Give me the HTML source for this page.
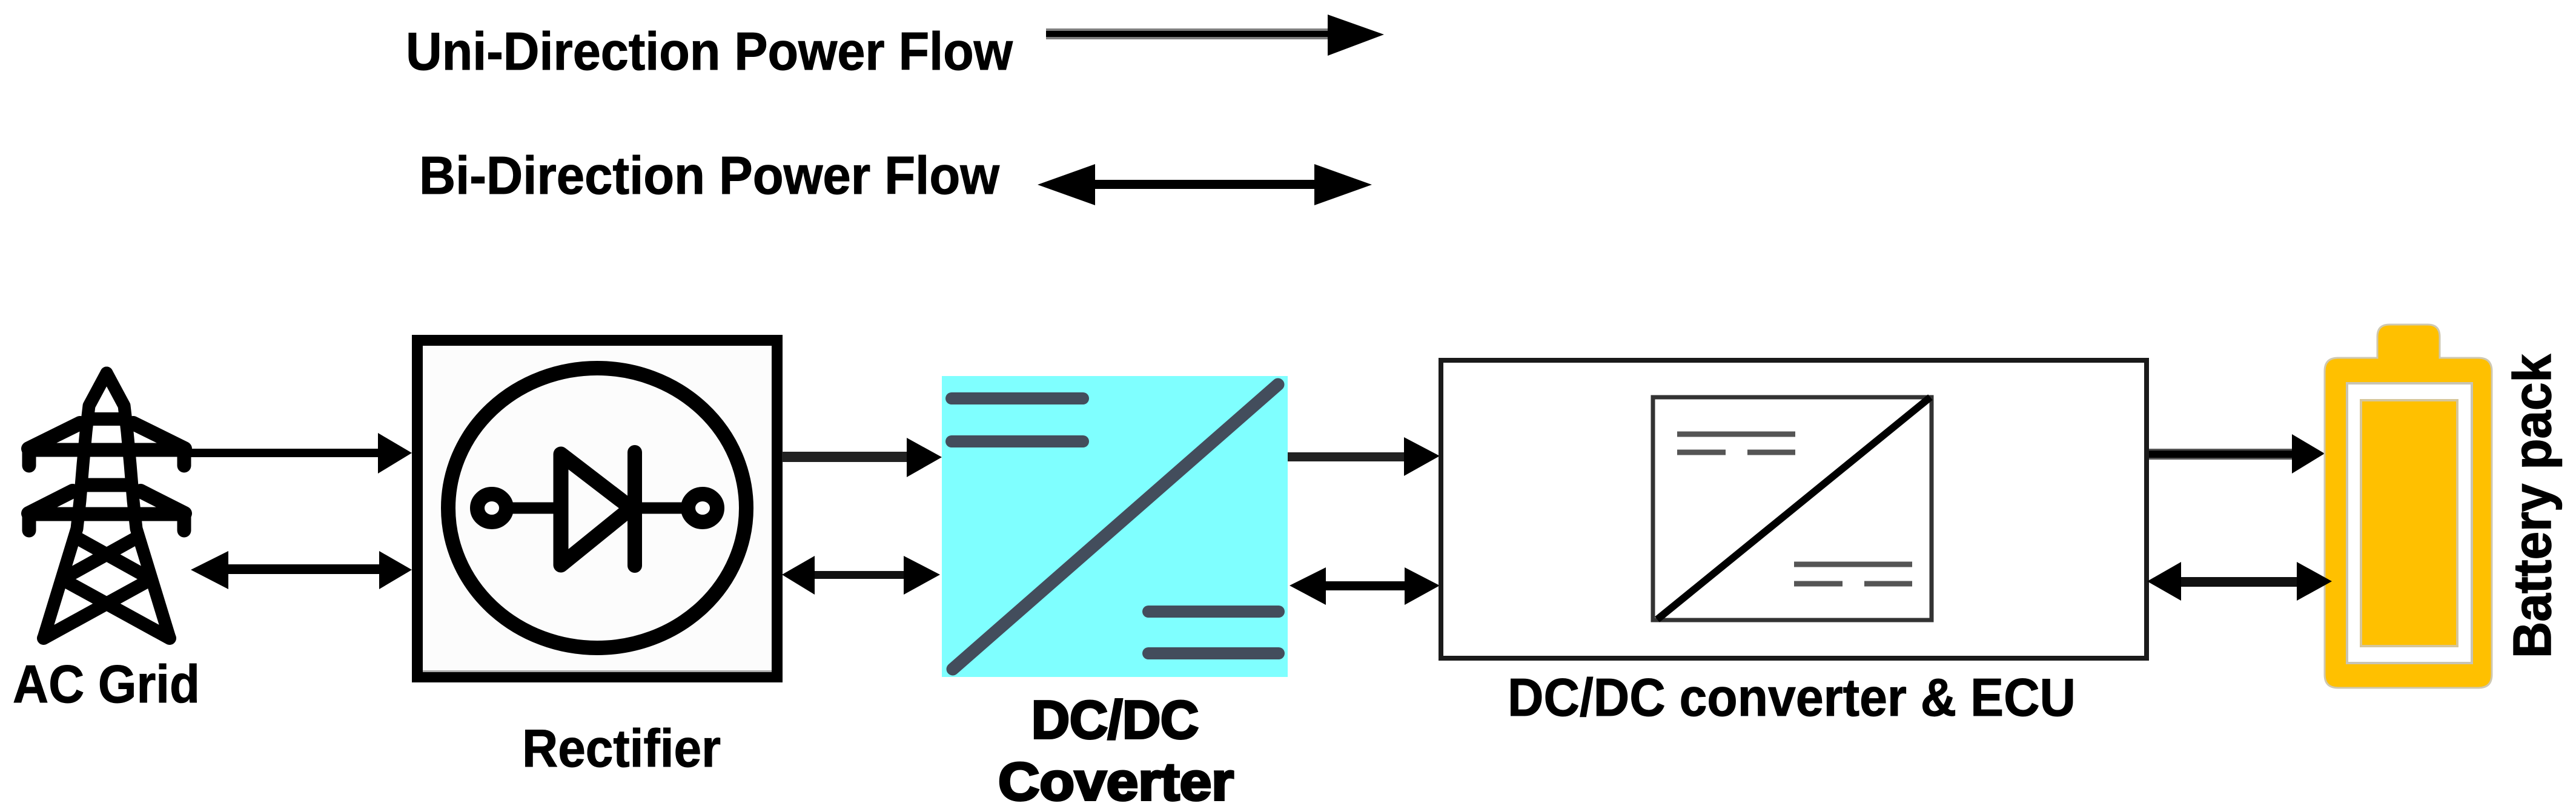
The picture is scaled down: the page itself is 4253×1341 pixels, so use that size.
<!DOCTYPE html>
<html>
<head>
<meta charset="utf-8">
<style>
html,body{margin:0;padding:0;background:#fff}
svg{display:block}
text{font-family:"Liberation Sans",Arial,sans-serif;fill:#000}
.r{font-weight:700;stroke:#000;stroke-width:1px}
.b{font-weight:700;stroke:#000;stroke-width:4px}
</style>
</head>
<body>
<svg xmlns="http://www.w3.org/2000/svg" width="4253" height="1341" viewBox="0 0 4253 1341">
<rect width="4253" height="1341" fill="#fff"/>

<!-- Legend -->
<text class="r" x="670" y="115" font-size="88" textLength="1002" lengthAdjust="spacingAndGlyphs">Uni-Direction Power Flow</text>
<rect x="1727" y="47" width="470" height="18" fill="#808080"/>
<rect x="1727" y="51" width="470" height="10" fill="#000"/>
<polygon points="2192,24 2285,57 2192,92" fill="#000"/>
<text class="r" x="692" y="320" font-size="88" textLength="958" lengthAdjust="spacingAndGlyphs">Bi-Direction Power Flow</text>
<rect x="1800" y="297" width="378" height="15" fill="#000"/>
<polygon points="1808,271 1713,305 1808,339" fill="#000"/>
<polygon points="2170,271 2265,305 2170,339" fill="#000"/>

<!-- Tower -->
<g fill="none" stroke="#000" stroke-linejoin="round" stroke-linecap="round">
  <path stroke-width="21" d="M176,616 L147,670 L142,713 L137,767 L132,827 L127,873 L72,1053"/>
  <path stroke-width="21" d="M176,616 L205,670 L210,713 L215,767 L220,827 L225,873 L280,1053"/>
  <path stroke-width="22" stroke-linecap="butt" d="M140,692H212"/>
  <path stroke-width="23" stroke-linecap="butt" d="M130,801H222"/>
  <path stroke-width="23" d="M48,769V743H304V769"/>
  <path stroke-width="23" d="M48,876V849H304V876"/>
  <path stroke-width="24" d="M47,741L132,699"/>
  <path stroke-width="24" d="M305,741L220,699"/>
  <path stroke-width="24" d="M47,848L120,811"/>
  <path stroke-width="24" d="M305,848L232,811"/>
  <path stroke-width="22" d="M130,890L247,955"/>
  <path stroke-width="22" d="M222,890L105,955"/>
  <path stroke-width="22" d="M107,959L280,1054"/>
  <path stroke-width="22" d="M245,959L72,1054"/>
</g>
<text class="r" x="21" y="1160" font-size="88" textLength="309" lengthAdjust="spacingAndGlyphs">AC Grid</text>

<!-- Arrows AC<->Rectifier -->
<rect x="315" y="741" width="315" height="14" fill="#000"/>
<polygon points="624,715 680,748 624,782" fill="#000"/>
<rect x="370" y="932" width="262" height="16" fill="#000"/>
<polygon points="377,910 315,941 377,973" fill="#000"/>
<polygon points="626,910 680,941 626,973" fill="#000"/>

<!-- Rectifier -->
<rect x="689" y="562" width="594" height="556" fill="#fcfcfc" stroke="#000" stroke-width="18"/>
<rect x="698" y="1107" width="576" height="3" fill="#aaa"/>
<ellipse cx="986" cy="839" rx="246" ry="231" fill="none" stroke="#000" stroke-width="24"/>
<g fill="none" stroke="#000" stroke-linecap="round" stroke-linejoin="round">
  <path stroke-width="25" d="M926,750L1042,839L926,933Z"/>
  <path stroke-width="24" d="M1048,747V934"/>
  <path stroke-width="19" stroke-linecap="butt" d="M845,839H926M1040,839H1130"/>
  <ellipse cx="812" cy="839" rx="24" ry="23" stroke-width="24"/>
  <ellipse cx="1160" cy="839" rx="24" ry="23" stroke-width="24"/>
</g>
<text class="r" x="862" y="1266" font-size="88" textLength="328" lengthAdjust="spacingAndGlyphs">Rectifier</text>

<!-- Arrows Rectifier<->DC -->
<rect x="1291" y="746" width="210" height="17" fill="#222"/>
<polygon points="1497,723 1555,755 1497,788" fill="#000"/>
<rect x="1340" y="943" width="158" height="13" fill="#111"/>
<polygon points="1345,918 1291,949 1345,982" fill="#000"/>
<polygon points="1492,918 1552,949 1492,982" fill="#000"/>

<!-- Cyan DC/DC -->
<rect x="1555" y="621" width="571" height="497" fill="#7fffff"/>
<g stroke="#434d5c" stroke-linecap="round" fill="none">
  <path stroke-width="21" d="M2110,635L1573,1105"/>
  <path stroke-width="20" d="M1571,658H1788M1571,729H1788M1896,1010H2111M1896,1079H2111"/>
</g>
<text class="b" x="1703" y="1219" font-size="88" textLength="276" lengthAdjust="spacingAndGlyphs">DC/DC</text>
<text class="b" x="1648" y="1321" font-size="88" textLength="389" lengthAdjust="spacingAndGlyphs">Coverter</text>

<!-- Arrows DC<->ECU -->
<rect x="2126" y="747" width="196" height="15" fill="#222"/>
<polygon points="2318,722 2377,753 2318,786" fill="#000"/>
<rect x="2185" y="960" width="138" height="15" fill="#000"/>
<polygon points="2189,937 2129,967 2189,999" fill="#000"/>
<polygon points="2319,937 2377,967 2319,999" fill="#000"/>

<!-- ECU box -->
<rect x="2379" y="595" width="1165" height="492" fill="#fff" stroke="#1a1a1a" stroke-width="8"/>
<rect x="2729" y="656" width="460" height="368" fill="#fff" stroke="#333" stroke-width="7"/>
<path d="M2736,1023L3187,656" stroke="#000" stroke-width="12" fill="none"/>
<g stroke="#555" stroke-width="9" fill="none">
  <path d="M2769,717H2964M2769,747H2849M2885,747H2964"/>
  <path d="M2962,932H3157M2962,964H3042M3078,964H3157"/>
</g>
<text class="r" x="2489" y="1182" font-size="88" textLength="938" lengthAdjust="spacingAndGlyphs">DC/DC converter &amp; ECU</text>

<!-- Arrows ECU<->Battery -->
<rect x="3548" y="741" width="240" height="18" fill="#555"/>
<rect x="3548" y="744" width="240" height="12" fill="#000"/>
<polygon points="3784,717 3838,749 3784,782" fill="#000"/>
<rect x="3595" y="953" width="200" height="16" fill="#111"/>

<!-- Battery -->
<path d="M3925,591V556Q3925,536 3945,536H4008Q4028,536 4028,556V591H4092Q4114,591 4114,613V1114Q4114,1136 4092,1136H3860Q3838,1136 3838,1114V613Q3838,591 3860,591Z" fill="#ffc000" stroke="#cfc8b0" stroke-width="3"/>
<rect x="3875" y="633" width="206" height="462" fill="#fff" stroke="#c8c4b4" stroke-width="4"/>
<rect x="3898" y="661" width="159" height="406" fill="#ffc000" stroke="#d6c69a" stroke-width="4"/>

<polygon points="3601,928 3545,960 3601,992" fill="#000"/>
<polygon points="3792,928 3850,960 3792,992" fill="#000"/>

<text class="b" transform="translate(4211,1087) rotate(-90)" x="0" y="0" font-size="88" textLength="502" lengthAdjust="spacingAndGlyphs" style="stroke-width:1.5px">Battery pack</text>
</svg>
</body>
</html>
